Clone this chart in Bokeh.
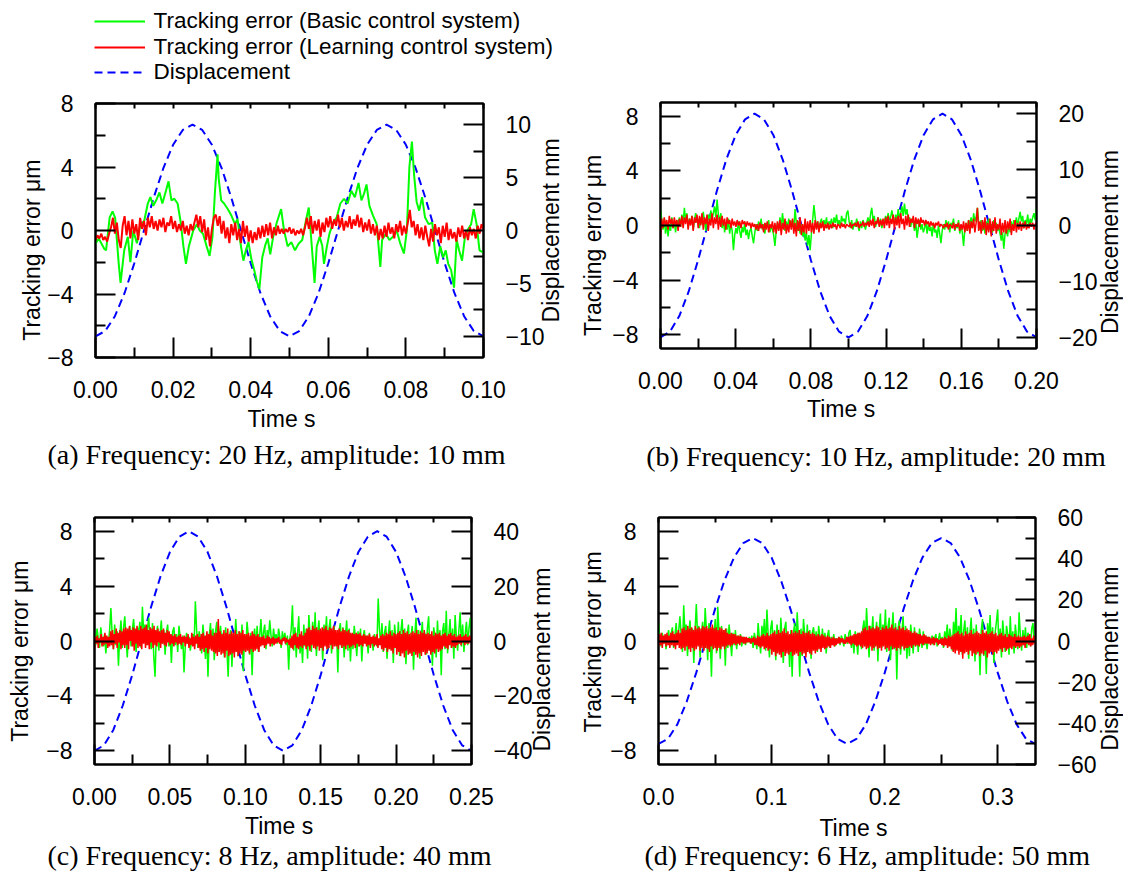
import math
import numpy as np
from bokeh.plotting import figure
from bokeh.models import (Range1d, LinearAxis, FixedTicker, PrintfTickFormatter,
                          CustomJSTickFormatter, Legend, LegendItem, Label)
from bokeh.embed import file_html
from bokeh.resources import INLINE

# ---------------- data ----------------
LEGEND_LABELS = ["Tracking error (Basic control system)",
                 "Tracking error (Learning control system)",
                 "Displacement"]
CAPTIONS = ["(a) Frequency: 20 Hz, amplitude: 10 mm",
            "(b) Frequency: 10 Hz, amplitude: 20 mm",
            "(c) Frequency: 8 Hz, amplitude: 40 mm",
            "(d) Frequency: 6 Hz, amplitude: 50 mm"]
X_TITLE = "Time s"
Y_TITLE = "Tracking error  \u03bcm"
Y2_TITLE = "Displacement  mm"

# panel (a) 20 Hz, 10 mm  (time in ms for the basic-system trace)
basic_a_ms = [0, 0.84, 2.25, 2.72, 3.65, 4.4, 5.06, 5.99, 6.46, 7.4,
              8.33, 8.99, 9.74, 10.67, 11.61, 12.55, 13.48, 14.14, 14.89, 15.64,
              16.48, 17.23, 18.16, 18.82, 19.57, 20.32, 21.16, 21.91, 22.66, 23.31,
              24.06, 25.19, 26.12, 26.87, 27.71, 28.65, 29.4, 30.15, 30.8, 31.46,
              31.74, 32.4, 33.15, 34.08, 35.02, 35.95, 36.61, 37.36, 38.11, 38.76,
              39.42, 40.17, 40.92, 41.57, 42.23, 42.98, 43.73, 44.38, 45.04, 45.79,
              46.72, 47.84, 48.59, 49.53, 50.47, 51.4, 52.34, 53.28, 54.21, 54.96,
              55.62, 56.46, 57.02, 57.77, 58.43, 58.89, 59.64, 60.3, 61.23, 62.17,
              63.11, 64.04, 64.98, 65.92, 66.85, 67.79, 68.54, 69.19, 69.85, 70.6,
              71.53, 72.47, 73.41, 73.87, 74.81, 75.75, 76.68, 77.62, 78.56, 79.49,
              80.24, 80.9, 81.55, 82.11, 82.77, 83.42, 84.17, 84.92, 85.86, 86.8,
              87.45, 88.11, 88.86, 89.6, 90.26, 90.91, 91.66, 92.41, 93.07, 93.72,
              94.47, 95.22, 96.06, 96.81, 97.47, 98.22, 98.97, 100]
basic_a = [-0.83, -0.5, -1.15, -1.25, 0.83, 1.2, 0.8, -2.1, -3.3, -1.25,
           -0.4, -2.0, 0.0, -0.8, 0.4, 0.6, 1.7, 2.1, 1.55, 1.9,
           2.4, 1.7, 2.5, 3.1, 1.9, 2.0, 1.7, 0.6, -1.0, -2.1,
           -1.0, 0.0, 0.4, 0.0, -0.2, -1.0, -1.6, -0.4, 2.5, 4.8,
           3.3, 1.9, 1.7, 1.35, 0.94, 0.4, 0.73, -0.8, -1.9, -1.25,
           -0.73, -1.8, -2.5, -3.2, -3.7, -1.7, -0.94, -0.5, -1.5, -0.4,
           0.5, 1.35, 0.0, -1.0, -0.73, -1.25, -0.83, -0.6, 0.6, 1.45,
           -0.6, -3.3, -1.0, -0.4, -0.94, -2.1, -1.0, -0.2, 0.5, 0.83,
           1.7, 2.0, 1.7, 2.5, 2.1, 3.0, 1.9, 2.3, 2.9, 1.55,
           0.94, 0.4, -2.3, -0.6, -0.2, -0.6, -0.4, 0.0, -0.83, -1.45,
           0.0, 4.0, 5.6, 3.5, 1.8, 1.25, 2.1, 0.83, 0.4, 0.5,
           -1.25, -2.1, -1.0, -1.7, -1.25, -2.1, -2.5, -3.6, -0.6, -1.25,
           -1.9, -0.4, 0.1, 0.4, 1.35, 0.4, -1.25, -1.4]
learn_a = [-0.6, -0.3, -0.5, -0.2, -0.6, -0.4, -0.7, -0.2,
           0.2, 0.8, -0.2, 0.5, -0.6, -1.1, 0.3, 0.9, -0.3, 0.6, -0.5, 0.7, -0.2, 0.4, -0.6, 0.8, 0.1, 0.6, -0.3,
           0.8, 0.2, 0.9, 0.1, 0.6, 0.0, 0.7, 0.2, 0.8, -0.1, 0.5, 0.3, 0.9, 0.1, 0.6, -0.1, 0.4, 0.0, 0.6, -0.2, 0.3, -0.3, 0.4, 0.0,
           0.5, 1.0, 0.2, 0.9, -0.1, 0.7, -0.6, 0.2, -1.0, 0.1, 0.8, 1.0,
           0.3, 0.9, -0.2, 0.6, -0.5, 0.2, -0.8, 0.4, -0.3, 0.5, -0.6, 0.1, -0.8, 0.6, -0.4, 0.3, -0.7, 0.0,
           -0.8, -0.1, -0.6, 0.2, -0.5, 0.3, -0.4, 0.4, -0.3, 0.5, -0.5, 0.2, -0.3, 0.3, -0.2, 0.1,
           -0.2, 0.1, -0.1, 0.2, -0.2, 0.1, -0.3, 0.0, -0.2, 0.1, -0.3, 0.2,
           0.8, 0.1, 0.9, -0.2, 0.6, 0.0, 0.7, -0.4, 0.5, -0.1, 0.8, 0.2, 0.9, 0.1, 0.7, 0.3, 1.0, 0.2, 0.8, 0.0,
           0.6, 0.2, 0.9, 0.1, 0.7, 0.3, 1.0, 0.2, 0.8, -0.1, 0.5, 0.0, 0.7, -0.2, 0.4, -0.3, 0.3, -0.6, 0.1, -0.5,
           0.3, -0.4, 0.5, -0.2, 0.2, -0.5, 0.4, -0.1, 0.6, -0.3, 0.3, -0.2, 0.5, 1.3,
           0.2, 0.6, -0.3, 0.4, -0.5, 0.2, -0.6, 0.3, -0.4, -1.0, 0.1, -0.7, 0.4, -0.3, 0.2, -0.8, 0.3, -0.4, 0.5,
           -0.6, 0.1, -0.5, -0.1, -0.7, 0.2, -0.4, 0.3, -0.5, 0.0, -0.6, 0.2, -0.3, 0.1, -0.5, 0.3, -0.2, 0.4, 0.1]
disp_a = [-10.0, -9.5, -8.1, -5.9, -3.1, 0.0, 3.1, 5.9, 8.1, 9.5, 10.0, 9.5, 8.1, 5.9, 3.1, 0.0,
          -3.1, -5.9, -8.1, -9.5, -10.0, -9.5, -8.1, -5.9, -3.1, 0.0, 3.1, 5.9, 8.1, 9.5, 10.0,
          9.5, 8.1, 5.9, 3.1, 0.0, -3.1, -5.9, -8.1, -9.5, -10.0]

# panel (b) 10 Hz, 20 mm
basic_b = [1.2, 0.4, -0.3, 0.5, -0.6, 0.2, -0.8, 0.1, -0.4, 0.6, -0.2, 0.3, -0.5, 0.4, 0.0,
           0.6, -0.1, 0.8, 0.2, 1.3, 0.4, 0.9, -0.2, 0.5, 0.1, 0.7, -0.3, 0.4, 0.9, 0.2,
           0.5, -0.2, 0.6, 0.1, 1.0, 0.3, -0.4, 0.5, 0.8, 0.2, 1.1, 0.4, 0.9, 1.4, 0.6,
           1.9, 0.8, 0.3, 0.9, -0.2, 0.4, -0.5, 0.2, -0.3, 0.5, -0.6, 0.1, -0.4, -1.8, -0.7,
           -0.2, -0.6, 0.3, -0.4, -0.9, -0.1, -0.5, 0.2, -0.7, -0.3, -1.0, -0.4, -0.2, -0.8, -1.3,
           -0.5, 0.1, -0.4, 0.3, -0.2, 0.5, -0.3, 0.1, -0.6, 0.2, -0.1, 0.4, -0.5, 0.0, -0.3,
           -0.7, -1.5, -0.4, 0.2, -0.3, 0.6, -0.2, 0.9, 0.1, -0.4, 0.3, -0.2, 0.5, -0.1, 0.2,
           0.4, -0.3, 1.2, 0.2, -0.4, 0.3, -0.6, 0.1, -0.8, -0.3, -1.1, -0.5, -1.5, -0.7, -1.8,
           -0.6, 0.4, 1.5, 0.6, -0.2, 0.3, -0.4, 0.2, 0.5, -0.1, 0.4, 0.0, 0.6, -0.2, 0.3,
           0.1, 0.5, -0.2, 0.6, 0.2, 0.8, 0.0, 0.4, -0.1, 0.7, 0.3, 0.5, 0.1, 0.9, 1.1,
           0.3, -0.2, 0.4, -0.3, 0.2, -0.1, 0.5, 0.0, -0.4, 0.3, -0.2, 0.4, 0.1, -0.3, 0.2,
           0.6, 0.1, 0.8, 1.3, 0.4, 0.7, -0.1, 0.3, 0.6, 0.0, 0.5, -0.2, 0.4, 0.2, 0.7,
           0.3, 0.9, 0.4, 0.6, 1.1, 0.5, 0.2, 0.8, 0.4, 1.2, 0.6, 0.9, 1.4, 0.7, 1.6,
           0.8, 1.2, 0.4, 0.6, -0.1, 0.5, 0.2, -0.4, 0.3, -0.9, -0.2, 0.4, -0.3, 0.1, -0.5,
           -0.2, 0.3, -0.6, 0.1, -0.4, -0.1, -0.8, 0.2, -0.5, -0.3, -0.9, 0.0, -0.6, -1.3, -0.4,
           0.1, -0.3, 0.4, -0.2, 0.3, -0.5, 0.2, 0.0, 0.5, -0.4, 0.1, -0.2, 0.4, -0.6, 0.0,
           -0.5, -1.5, -0.3, 0.2, -0.4, 0.4, 0.0, 0.6, -0.2, 0.9, 0.3, 0.6, 1.3, 0.2, -0.3,
           0.4, -0.4, 0.2, -0.6, 0.3, -0.1, 0.5, -0.3, 0.1, -0.5, 0.4, -0.2, 0.2, -0.4, -0.1,
           -0.6, -1.1, -0.5, -1.7, -0.6, -0.2, -0.8, 0.1, -0.5, 0.3, -0.3, 0.4, -0.1, 0.6, 0.0,
           0.5, 1.0, 0.3, 0.7, -0.2, 0.4, 0.1, 0.8, -0.1, 0.5, 0.2, 0.6, 0.9, 0.4, 1.3]
learn_b = [-0.9, 0.5, -0.2, 0.6, 0.0, 0.4, -0.3, 0.7, 0.1, 0.5, -0.2, 0.6, 0.0, 0.4, -0.4,
           0.5, -0.1, 0.7, -0.2, 0.6, 0.1, 0.8, -0.3, 0.5, 0.0, 0.7, -0.4, 0.6, 0.2, 0.8,
           -0.2, 0.7, 0.0, 0.9, -0.3, 0.6, 0.1, 0.8, -0.4, 0.5, 0.0, 0.9, -0.2, 0.6, 0.1,
           0.8, -0.3, 0.6, -0.1, 0.7, 0.0, 0.5, -0.3, 0.6, 0.1, 0.4, -0.2, 0.5, 0.0, 0.3,
           -0.1, 0.4, 0.0, 0.3, -0.2, 0.4, 0.1, 0.3, -0.1, 0.3, 0.0, 0.2, -0.2, 0.2, -0.1,
           0.1, -0.3, 0.1, -0.4, 0.2, -0.2, 0.1, -0.5, 0.2, -0.3, 0.3, -0.5, 0.1, -0.2, 0.3,
           -0.5, 0.2, -0.6, 0.3, -0.4, 0.4, -0.7, 0.2, -0.3, 0.5, -0.6, 0.1, -0.5, 0.4, -0.3,
           0.5, -0.6, 0.2, -0.8, 0.4, -0.4, 0.6, -0.7, 0.1, -0.5, 0.5, -0.6, 0.3, -0.4, 0.4,
           -0.5, 0.2, -0.6, 0.4, -0.3, 0.3, -0.5, 0.2, -0.2, 0.3, -0.4, 0.1, -0.2, 0.2, -0.3,
           0.1, -0.2, 0.2, -0.1, 0.1, -0.3, 0.1, 0.0, -0.2, 0.2, -0.1, 0.1, -0.2, 0.1, 0.0,
           -0.1, 0.2, -0.2, 0.1, 0.0, 0.2, -0.1, 0.3, -0.2, 0.1, 0.0, 0.3, -0.1, 0.2, 0.0,
           0.3, -0.1, 0.4, 0.0, 0.5, -0.2, 0.3, 0.1, 0.6, -0.1, 0.4, 0.0, 0.5, -0.2, 0.6,
           0.0, 0.7, -0.2, 0.5, 0.1, 0.8, -0.3, 0.6, 0.0, 0.7, -0.2, 0.9, 0.1, 0.5, -0.3,
           0.7, 0.0, 0.8, -0.1, 0.5, 0.2, 0.7, -0.2, 0.6, 0.1, 0.5, -0.1, 0.6, 0.2, 0.4,
           0.0, 0.4, 0.1, 0.3, -0.1, 0.3, 0.0, 0.2, -0.2, 0.2, 0.0, 0.3, -0.1, 0.1, 0.0,
           -0.2, 0.1, -0.1, 0.2, -0.3, 0.1, 0.0, -0.2, 0.2, -0.3, 0.1, -0.1, 0.2, -0.4, 0.1,
           -0.3, 0.3, -0.5, 0.2, -0.4, 0.4, -0.6, 0.3, -0.2, 0.5, -0.5, 0.2, 1.3, -0.4, 0.3,
           -0.6, 0.4, -0.3, 0.6, -0.7, 0.2, -0.5, 0.5, -0.8, 0.3, -0.4, 0.6, -0.6, 0.1, -0.3,
           0.5, -0.7, 0.2, -0.5, 0.4, -0.6, 0.3, -0.3, 0.5, -0.7, 0.1, -0.4, 0.4, -0.5, 0.2,
           -0.3, 0.3, -0.4, 0.2, -0.2, 0.3, -0.3, 0.1, -0.2, 0.2, -0.1, 0.2, -0.3, 0.1, 0.2]
disp_b = [-20.0, -19.0, -16.2, -11.8, -6.2, 0.0, 6.2, 11.8, 16.2, 19.0, 20.0, 19.0, 16.2, 11.8, 6.2, 0.0,
          -6.2, -11.8, -16.2, -19.0, -20.0, -19.0, -16.2, -11.8, -6.2, 0.0, 6.2, 11.8, 16.2, 19.0, 20.0,
          19.0, 16.2, 11.8, 6.2, 0.0, -6.2, -11.8, -16.2, -19.0, -20.0]

# panel (c) 8 Hz, 40 mm
basic_c = [0.6, -0.3, 0.9, 0.2, -0.5, 1.0, 0.1, -0.4, 0.5, -0.9, 0.3, -0.2,
           0.8, 2.4, 0.5, -0.6, 1.2, -0.3, 0.7, -1.8, 0.4, 1.5, -0.5, 0.9,
           1.8, 0.2, -1.2, 0.6, 1.1, -0.4, 0.8, 1.6, 0.3, -0.8, 1.0, 0.5,
           1.4, -0.5, 2.5, 0.6, 1.2, -0.3, 0.9, 1.7, 0.2, -0.6, 1.3, -1.1,
           -2.6, 0.4, 1.1, -0.7, 0.5, 1.5, -0.2, 0.8, -1.0, 0.6, 1.2, -0.4,
           0.3, -1.6, 0.7, 1.0, -0.3, 0.5, -0.8, 1.1, 0.2, -0.6, 0.4, -2.3,
           -0.4, 0.6, -0.2, 0.3, -0.7, 0.1, 0.5, -0.3, 2.9, 0.8, -0.5, 0.7,
           0.2, -0.9, 1.2, 0.1, -1.3, 0.6, -2.6, 0.4, 1.3, -0.5, 0.9, -1.4,
           0.7, 1.4, -0.8, 0.5, 1.1, -0.3, 0.6, -1.2, 1.0, -0.6, -2.6, 0.3,
           0.8, -1.9, 0.5, -0.7, 1.6, 0.2, -1.1, 0.7, -0.4, 1.2, -2.2, 0.4,
           -0.6, 1.4, 0.3, -1.0, 0.6, -2.5, 0.2, 0.9, -0.5, 1.1, -0.8, 0.4,
           1.6, -0.3, 0.6, 1.2, -0.6, 0.8, 0.2, 1.5, 0.4, -0.4, 0.9, 0.1,
           0.5, -0.2, 0.9, 0.3, -0.5, 0.7, 0.0, 0.6, -0.3, 0.4, -2.1, 0.2,
           0.8, 2.6, -0.7, 1.0, -1.2, 0.5, 1.8, -0.9, 0.3, -1.6, 1.2, -0.4,
           0.9, -1.3, 1.9, 0.4, -0.8, 1.4, -0.2, 2.1, -1.1, 0.6, 1.5, -0.5,
           0.7, -1.4, 1.2, 0.3, 1.8, -0.6, 0.9, 1.6, -0.9, 0.5, 1.1, -0.3,
           0.6, -2.3, 0.8, 1.3, -0.5, 1.0, -1.2, 0.4, 1.5, -0.7, 0.9, -1.5,
           0.5, -0.6, 1.1, 0.2, -1.1, 0.7, -0.4, 0.9, -1.5, 0.3, 0.8, -0.2,
           0.4, -0.9, 0.6, -0.3, 0.2, -0.7, 0.5, 0.1, -0.4, 3.1, 0.9, -0.3,
           1.3, -0.8, 0.6, 1.1, -1.3, 0.4, 1.5, -0.6, 0.8, -1.6, 1.2, 0.2,
           -0.5, 1.4, -1.1, 0.7, 1.6, -0.4, 0.9, -1.7, 0.5, 1.2, -0.9, 0.3,
           1.1, -2.1, 0.4, 1.7, -0.6, 0.8, -1.3, 0.2, 1.4, -0.8, 0.6, -1.0,
           0.9, 1.8, -0.7, 0.5, -1.8, 1.0, 0.3, -1.2, 1.5, -0.4, 0.8, -2.5,
           0.7, 1.3, -0.6, 2.2, -0.9, 0.4, 1.6, -0.5, 0.9, -1.3, 1.9, 0.3,
           -0.7, 0.8, 2.1, -0.4, 1.2, -0.8, 0.5, 1.4, -0.3, 0.9, 1.7, 0.4]
learn_c = [-0.6, 0.3, -0.2, 0.4, -0.5, 0.2, -0.1, 0.5, -0.4, 0.3, -0.3, 0.6, -0.2, 0.4, -0.5, 0.3,
           -0.4, 0.7, -0.3, 0.8, -0.6, 0.5, -0.2, 0.9, -0.5, 0.6, -0.1, 0.8, -0.6, 0.7, -0.3, 0.9,
           -0.5, 1.0, -0.3, 0.9, -0.6, 1.1, 0.0, 0.8, -0.4, 1.0, -0.7, 0.9, -0.2, 1.1, -0.5, 0.8,
           -0.4, 1.1, -0.6, 0.9, -0.2, 1.0, -0.5, 1.2, -0.3, 0.8, -0.6, 1.0, -0.1, 0.9, -0.5, 1.1,
           -0.3, 0.8, -0.4, 0.9, -0.1, 0.7, -0.5, 0.8, -0.2, 0.9, -0.3, 0.6, -0.4, 0.8, -0.1, 0.7,
           -0.3, 0.5, -0.2, 0.4, -0.4, 0.5, -0.1, 0.3, -0.3, 0.4, -0.2, 0.5, -0.3, 0.3, -0.1, 0.4,
           -0.4, 0.3, -0.2, 0.5, -0.5, 0.2, -0.3, 0.6, -0.4, 0.3, -0.6, 0.4, -0.2, 0.5, -0.5, 0.3,
           -0.7, 0.5, -0.6, 0.6, -0.8, 0.4, -0.5, 0.7, -0.9, 0.5, -0.6, 0.8, -0.7, 0.4, -0.8, 0.6,
           -0.9, 0.6, -1.1, 1.6, -0.8, 0.7, -1.0, 0.5, -0.9, 0.8, -1.2, 0.6, -0.7, 0.9, -1.1, 0.5,
           -1.0, 0.7, -0.9, 0.6, -1.2, 0.8, -0.8, 0.5, -1.1, 0.7, -0.9, 0.6, -1.0, 0.8, -0.7, 0.5,
           -0.8, 0.5, -0.7, 0.6, -0.9, 0.4, -0.6, 0.7, -0.8, 0.5, -0.7, 0.4, -0.6, 0.5, -0.8, 0.3,
           -0.4, 0.3, -0.3, 0.4, -0.5, 0.2, -0.3, 0.4, -0.2, 0.3, -0.4, 0.2, -0.2, 0.3, -0.3, 0.2,
           -0.2, 0.2, -0.1, 0.3, -0.2, 0.1, -0.3, 0.2, 0.0, 0.3, -0.2, 0.2, -0.1, 0.1, -0.3, 0.2,
           -0.5, 0.4, -0.6, 0.5, -0.3, 0.6, -0.5, 0.3, -0.6, 0.5, -0.4, 0.7, -0.5, 0.4, -0.3, 0.6,
           -0.6, 0.9, -0.4, 1.0, -0.7, 0.8, -0.3, 1.1, -0.5, 0.9, -0.6, 1.0, -0.4, 0.8, -0.7, 0.9,
           -0.5, 1.0, -0.7, 0.9, -0.4, 1.1, -0.6, 0.8, -0.5, 1.0, -0.3, 0.9, -0.6, 1.1, -0.4, 0.8,
           -0.4, 0.8, -0.6, 0.9, -0.3, 0.7, -0.5, 0.9, -0.4, 0.8, -0.6, 0.7, -0.3, 0.8, -0.5, 0.6,
           -0.4, 0.6, -0.3, 0.5, -0.5, 0.6, -0.2, 0.5, -0.4, 0.6, -0.3, 0.4, -0.4, 0.5, -0.2, 0.4,
           -0.4, 0.4, -0.3, 0.5, -0.5, 0.3, -0.2, 0.4, -0.4, 0.3, -0.3, 0.5, -0.5, 0.2, -0.3, 0.4,
           -0.6, 0.5, -0.7, 0.4, -0.5, 0.6, -0.8, 0.5, -0.6, 0.7, -0.7, 0.4, -0.9, 0.6, -0.5, 0.5,
           -1.0, 0.6, -0.8, 0.7, -1.1, 0.5, -0.9, 0.8, -1.2, 0.6, -0.7, 0.7, -1.0, 0.5, -0.9, 0.6,
           -1.1, 0.7, -0.8, 0.6, -1.0, 0.8, -1.2, 0.5, -0.9, 0.7, -1.1, 0.6, -0.8, 0.8, -1.0, 0.5,
           -0.9, 0.6, -0.7, 0.5, -1.0, 0.7, -0.8, 0.4, -0.9, 0.6, -0.6, 0.5, -0.8, 0.6, -0.7, 0.4,
           -0.6, 0.5, -0.4, 0.6, -0.5, 0.4, -0.6, 0.5, -0.3, 0.6, -0.5, 0.4, -0.4, 0.5, -0.5, 0.3,
           -0.3, 0.4, -0.2, 0.5, -0.3, 0.3, -0.1, 0.4, -0.3, 0.5, -0.2, 0.3, -0.2, 0.4, -0.1, 0.3]
disp_c = [-40.0, -38.0, -32.4, -23.5, -12.4, 0.0, 12.4, 23.5, 32.4, 38.0, 40.0, 38.0, 32.4, 23.5, 12.4, 0.0,
          -12.4, -23.5, -32.4, -38.0, -40.0, -38.0, -32.4, -23.5, -12.4, 0.0, 12.4, 23.5, 32.4, 38.0, 40.0,
          38.0, 32.4, 23.5, 12.4, 0.0, -12.4, -23.5, -32.4, -38.0, -40.0]

# panel (d) 6 Hz, 50 mm
basic_d = [1.4, 0.3, -0.4, 0.6, -0.2, 0.4, -0.6, 0.2, 0.8, -0.3, 0.5, 1.0, -0.5, 0.3, 1.3, -0.2, 0.7, 1.8,
           0.4, -0.8, 2.6, 0.5, 1.2, -1.1, 0.6, 1.5, -0.4, 0.9, -1.6, 0.7, 2.7, 0.3, 1.1, -1.2, 0.5, 1.4,
           -0.6, 2.4, 0.8, -1.4, 1.3, 0.2, -2.6, 1.0, 0.4, 1.6, -0.9, 2.5, 0.6, -1.3, 1.1, -0.4, 0.8, -1.8,
           0.9, -0.5, 1.2, 0.2, -1.1, 0.6, -0.3, 0.8, -0.6, 0.4, -0.2, 0.5, -0.4, 0.3, 0.1, -0.3, 0.2, -0.1,
           0.3, -0.2, 0.4, -0.5, 0.6, 0.1, -0.6, 1.3, 0.2, -0.9, 1.1, 0.3, 1.6, -0.7, 2.3, 0.4, -1.2, 0.9,
           1.5, -0.5, 0.8, -1.4, 1.2, 0.3, -0.8, 1.7, 0.2, -1.6, 0.9, 1.4, -0.6, 0.4, -1.9, 0.8, -2.6, 0.6,
           1.3, -0.7, 2.1, 0.2, -2.6, 0.9, -1.1, 1.6, 0.4, -0.9, 1.2, -0.5, 0.8, -1.3, 0.6, 1.0, -0.4, 0.7,
           -0.8, 1.1, 0.3, -0.6, 0.9, -0.3, 0.6, -0.9, 0.4, 0.8, -0.5, 0.3, -0.2, 0.5, -0.4, 0.2, -0.1, 0.3,
           -0.3, 0.4, 0.1, -0.4, 0.5, 0.0, -0.2, 0.6, 0.8, -0.5, 0.4, -0.9, 0.7, 0.2, -1.0, 0.6, 0.3, -0.6,
           0.9, 1.5, -0.4, 2.4, 0.5, -1.2, 1.1, 0.3, 1.8, -0.7, 0.6, 1.4, -1.5, 0.8, 2.0, -0.5, 1.2, 0.4,
           2.3, -0.8, 1.0, 1.7, -1.4, 0.6, 2.1, -0.6, 1.3, -2.8, 0.9, 1.5, -1.0, 0.5, 1.8, -0.7, 1.1, -1.3,
           0.7, -1.1, 1.2, 0.3, -0.9, 1.0, -0.4, 0.6, -0.8, 0.9, 0.2, -0.5, 0.7, -0.3, 0.4, -0.6, 0.3, 0.1,
           -0.2, 0.4, -0.3, 0.2, 0.5, -0.4, 0.1, 0.6, -0.2, 0.3, -0.5, 0.7, 0.1, 1.2, -0.4, 0.9, 0.3, -0.7,
           1.4, 0.2, 2.4, -0.6, 1.1, 0.4, 1.9, -1.0, 0.7, 1.5, -0.5, 1.0, -1.3, 0.6, 1.7, -0.8, 0.9, -1.5,
           1.2, -0.9, 0.5, -2.5, 0.8, 1.6, -1.1, 0.4, -2.4, 1.3, 0.2, 1.9, -0.7, 1.0, -1.6, 0.6, 1.4, 2.3,
           -0.5, 0.9, -1.2, 1.5, 0.3, -0.8, 1.1, 0.5, -1.0, 1.8, -0.4, 0.7, -0.9, 1.2, 0.2, -0.6, 2.1, 0.4,
           -0.7, 0.8, -0.3, 1.0, -0.5, 0.6, 0.2, -0.4, 0.9, 1.3, -0.2, 0.5]
learn_d = [-0.4, 0.5, -0.3, 0.6, -0.5, 0.4, -0.2, 0.5, -0.4, 0.6, -0.3, 0.4, -0.5, 0.6, -0.3, 0.7, -0.4, 0.5, -0.6, 0.6, -0.3, 0.8, -0.5, 0.6,
           -0.6, 0.9, -0.5, 1.0, -0.7, 0.8, -0.4, 1.1, -0.6, 0.9, -0.8, 1.0, -0.5, 0.8, -0.7, 1.1, -0.6, 0.9, -0.4, 1.0, -0.7, 0.9, -0.5, 1.1,
           -0.7, 1.0, -0.5, 1.1, -0.6, 0.9, -0.8, 1.0, -0.4, 1.2, -0.6, 0.9, -0.5, 1.0, -0.7, 0.8, -0.5, 1.0, -0.6, 0.9, -0.4, 0.8, -0.6, 0.9,
           -0.4, 0.6, -0.3, 0.5, -0.4, 0.6, -0.3, 0.5, -0.2, 0.5, -0.3, 0.4, -0.2, 0.4, -0.3, 0.4, -0.1, 0.3, -0.2, 0.3, -0.2, 0.3, -0.1, 0.2,
           -0.1, 0.2, -0.2, 0.2, -0.1, 0.3, -0.3, 0.2, -0.3, 0.4, -0.4, 0.3, -0.5, 0.4, -0.4, 0.5, -0.6, 0.4, -0.5, 0.6, -0.7, 0.4, -0.6, 0.5,
           -1.0, 0.6, -0.8, 0.7, -1.1, 0.5, -0.9, 0.8, -1.0, 0.6, -1.2, 0.7, -0.8, 0.9, -1.1, 0.6, -0.9, 0.7, -1.0, 0.5, -0.8, 0.8, -1.1, 0.6,
           -1.0, 0.7, -0.9, 0.6, -1.1, 0.8, -0.8, 0.5, -1.0, 0.7, -0.9, 0.6, -1.2, 0.6, -0.8, 0.7, -0.9, 0.5, -1.0, 0.6, -0.7, 0.5, -0.9, 0.4,
           -0.7, 0.5, -0.6, 0.4, -0.8, 0.5, -0.5, 0.4, -0.6, 0.3, -0.5, 0.4, -0.4, 0.3, -0.5, 0.2, -0.3, 0.3, -0.4, 0.2, -0.3, 0.2, -0.2, 0.3,
           -0.2, 0.2, -0.1, 0.2, -0.2, 0.1, -0.2, 0.3, -0.1, 0.3, -0.2, 0.4, -0.3, 0.4, -0.2, 0.5, -0.3, 0.5, -0.4, 0.6, -0.3, 0.6, -0.4, 0.7,
           -0.5, 0.9, -0.4, 1.0, -0.6, 0.8, -0.5, 1.1, -0.4, 0.9, -0.7, 1.0, -0.5, 0.9, -0.4, 1.1, -0.6, 1.0, -0.5, 0.8, -0.7, 1.0, -0.4, 0.9,
           -0.6, 1.1, -0.5, 0.9, -0.7, 1.0, -0.4, 1.2, -0.6, 0.9, -0.5, 1.0, -0.7, 0.8, -0.5, 1.1, -0.6, 0.9, -0.4, 1.0, -0.6, 0.8, -0.5, 0.9,
           -0.5, 0.8, -0.4, 0.7, -0.5, 0.6, -0.3, 0.7, -0.4, 0.6, -0.3, 0.5, -0.4, 0.5, -0.2, 0.4, -0.3, 0.5, -0.2, 0.4, -0.2, 0.3, -0.2, 0.3,
           -0.3, 0.2, -0.2, 0.3, -0.3, 0.2, -0.1, 0.2, -0.3, 0.1, -0.2, 0.2, -0.3, 0.2, -0.4, 0.3, -0.3, 0.2, -0.5, 0.4, -0.4, 0.3, -0.6, 0.4,
           -0.8, 0.5, -0.9, 0.6, -0.7, 0.7, -1.0, 0.5, -0.8, 0.6, -1.3, 0.4, -0.9, 0.7, -0.8, 0.5, -1.0, 0.6, -0.7, 0.8, -1.1, 0.5, -0.9, 0.6,
           -1.0, 0.7, -0.8, 0.6, -1.1, 0.5, -0.9, 0.8, -1.0, 0.6, -0.7, 0.7, -1.2, 0.5, -0.9, 0.6, -0.8, 0.7, -1.0, 0.5, -0.8, 0.6, -0.9, 0.4,
           -0.7, 0.5, -0.6, 0.6, -0.8, 0.4, -0.5, 0.5, -0.7, 0.3, -0.6, 0.5, -0.5, 0.4, -0.6, 0.3, -0.4, 0.5, -0.5, 0.3, -0.4, 0.4, -0.5, 0.3,
           -0.4, 0.3, -0.3, 0.4, -0.5, 0.3, -0.2, 0.4, -0.3, 0.5, -0.4, 0.2, -0.3, 0.4, -0.2, 0.3]
disp_d = [-50.0, -47.6, -40.5, -29.4, -15.5, 0.0, 15.5, 29.4, 40.5, 47.6, 50.0, 47.6, 40.5, 29.4, 15.5, 0.0,
          -15.5, -29.4, -40.5, -47.6, -50.0, -47.6, -40.5, -29.4, -15.5, 0.0, 15.5, 29.4, 40.5, 47.6, 50.0,
          47.6, 40.5, 29.4, 15.5, 0.0, -15.5, -29.4, -40.5, -47.6, -50.0]

# time spans of the panels (s)
T_END = [0.1, 0.2, 0.25, 1.0 / 3.0]

# axis ticks
Y_MAJOR = [-8, -4, 0, 4, 8]
Y_MINOR = [-6, -2, 2, 6]
X_MAJOR = [[0.0, 0.02, 0.04, 0.06, 0.08, 0.1],
           [0.0, 0.04, 0.08, 0.12, 0.16, 0.2],
           [0.0, 0.05, 0.1, 0.15, 0.2, 0.25],
           [0.0, 0.1, 0.2, 0.3]]
X_MINOR = [[0.01, 0.03, 0.05, 0.07, 0.09],
           [0.02, 0.06, 0.1, 0.14, 0.18],
           [0.025, 0.075, 0.125, 0.175, 0.225],
           [0.05, 0.15, 0.25]]
X_FMT = ["%.2f", "%.2f", "%.2f", "%.1f"]
D_MAJOR = [[-10, -5, 0, 5, 10],
           [-20, -10, 0, 10, 20],
           [-40, -20, 0, 20, 40],
           [-60, -40, -20, 0, 20, 40, 60]]
D_MINOR = [[-7.5, -2.5, 2.5, 7.5],
           [-15, -5, 5, 15],
           [-30, -10, 10, 30],
           [-50, -30, -10, 10, 30, 50]]

# ---------------- styling / layout ----------------
SANS = "Liberation Sans"
SERIF = "Liberation Serif"
FS = "23px"
LEGEND_FS = "22.5px"
GREEN, RED, BLUE = "#00FF00", "#FF0000", "#0000FF"
PAGE_W, PAGE_H = 1123, 871


def style_axis(ax, std):
    ax.major_tick_in = 20
    ax.major_tick_out = 0
    ax.minor_tick_in = 10
    ax.minor_tick_out = 0
    ax.major_tick_line_width = 2
    ax.minor_tick_line_width = 2
    ax.major_tick_line_color = "black"
    ax.minor_tick_line_color = "black"
    ax.axis_line_color = "black"
    ax.axis_line_width = 2
    ax.major_label_text_font = SANS
    ax.major_label_text_font_size = FS
    ax.major_label_text_color = "black"
    ax.major_label_standoff = std


def make_panel(i, pos, size, borders, y_end, d_end):
    w, h = size
    left, right, top, bottom = borders
    p = figure(width=w, height=h, output_backend="svg", toolbar_location=None,
               x_range=Range1d(0, T_END[i]), y_range=Range1d(-y_end, y_end),
               min_border_left=left, min_border_right=right,
               min_border_top=top, min_border_bottom=bottom)
    p.styles = {"position": "absolute", "left": f"{pos[0]}px", "top": f"{pos[1]}px"}
    p.extra_y_ranges = {"disp": Range1d(-d_end, d_end)}
    p.xgrid.visible = False
    p.ygrid.visible = False
    p.outline_line_color = "black"
    p.outline_line_width = 2
    p.background_fill_color = "white"
    p.border_fill_color = "white"

    xa = p.xaxis[0]
    xa.ticker = FixedTicker(ticks=X_MAJOR[i], minor_ticks=X_MINOR[i])
    xa.formatter = PrintfTickFormatter(format=X_FMT[i])
    style_axis(xa, 23)

    ya = p.yaxis[0]
    ya.ticker = FixedTicker(ticks=Y_MAJOR, minor_ticks=Y_MINOR)
    style_axis(ya, 22)

    ra = LinearAxis(y_range_name="disp",
                    ticker=FixedTicker(ticks=D_MAJOR[i], minor_ticks=D_MINOR[i]))
    style_axis(ra, 22)
    p.add_layout(ra, "right")

    ta = LinearAxis(ticker=FixedTicker(ticks=sorted(X_MAJOR[i] + X_MINOR[i])),
                    formatter=CustomJSTickFormatter(code="return ''"))
    ta.major_tick_in = 5
    ta.major_tick_out = 0
    ta.minor_tick_in = 0
    ta.minor_tick_out = 0
    ta.major_tick_line_width = 2
    ta.axis_line_color = "black"
    ta.axis_line_width = 2
    ta.major_label_standoff = 0
    ta.major_label_text_font_size = "10px"
    p.add_layout(ta, "above")
    return p


def draw(p, t_basic, basic, t_learn, learn, t_disp, disp, lw):
    p.line(t_disp, disp, y_range_name="disp", line_color=BLUE, line_width=2, line_dash="8 5")
    p.line(t_basic, basic, line_color=GREEN, line_width=lw)
    p.line(t_learn, learn, line_color=RED, line_width=lw)


t_basic_a = [v / 1000.0 for v in basic_a_ms]
t_learn_a = np.linspace(0, T_END[0], len(learn_a))
t_disp_a = np.linspace(0, T_END[0], len(disp_a))

# panel (a)
pa = make_panel(0, (0, 0), (570, 480), (95, 87, 103, 123), 8, 12)
draw(pa, t_basic_a, basic_a, t_learn_a, learn_a, t_disp_a, disp_a, 2)

# panel (b)
pb = make_panel(1, (570, 0), (553, 480), (90, 87, 102, 132), 9, 22)
draw(pb, np.linspace(0, T_END[1], len(basic_b)), basic_b,
     np.linspace(0, T_END[1], len(learn_b)), learn_b,
     np.linspace(0, T_END[1], len(disp_b)), disp_b, 1.5)

# panel (c)
pc = make_panel(2, (0, 480), (570, 391), (94, 99, 37, 107), 9, 45)
draw(pc, np.linspace(0, T_END[2], len(basic_c)), basic_c,
     np.linspace(0, T_END[2], len(learn_c)), learn_c,
     np.linspace(0, T_END[2], len(disp_c)), disp_c, 1.5)

# panel (d)
pd_ = make_panel(3, (570, 480), (553, 391), (88, 88, 37, 107), 9, 60)
draw(pd_, np.linspace(0, T_END[3], len(basic_d)), basic_d,
     np.linspace(0, T_END[3], len(learn_d)), learn_d,
     np.linspace(0, T_END[3], len(disp_d)), disp_d, 1.5)

# ---------------- overlay: legend, axis titles, captions ----------------
ov = figure(width=PAGE_W, height=PAGE_H, output_backend="svg", toolbar_location=None,
            x_range=Range1d(0, 1), y_range=Range1d(0, 1),
            x_axis_location=None, y_axis_location=None, min_border=0)
ov.styles = {"position": "absolute", "left": "0px", "top": "0px"}
ov.grid.visible = False
ov.outline_line_color = None
ov.background_fill_color = None
ov.border_fill_color = None
# legend series: the panel (a) data on a range that lies outside the page
ov.extra_x_ranges = {"off": Range1d(10, 11)}
lg_g = ov.line(t_basic_a, basic_a, x_range_name="off", line_color=GREEN, line_width=2)
lg_r = ov.line(t_learn_a, learn_a, x_range_name="off", line_color=RED, line_width=2)
lg_b = ov.line(t_disp_a, disp_a, x_range_name="off", line_color=BLUE, line_width=2, line_dash="8 5")
row_y = [21.1, 46.5, 71.9]          # page y of the legend rows
for rend, lab, yc in zip([lg_g, lg_r, lg_b], LEGEND_LABELS, row_y):
    lg = Legend(items=[LegendItem(label=lab, renderers=[rend])],
                location=(93.6, PAGE_H - yc - 20), orientation="vertical",
                glyph_width=51, glyph_height=40, label_height=40, label_standoff=9,
                padding=0, margin=0, border_line_color=None, background_fill_alpha=0,
                label_text_font=SANS, label_text_font_size=LEGEND_FS, label_text_color="black")
    ov.add_layout(lg)


def page_label(text, x, y, font=SANS, size=FS, angle=0.0, align="center"):
    # (x, y): page position of the centre line of the text box
    ov.add_layout(Label(x=x, y=PAGE_H - y, x_units="screen", y_units="screen", text=text,
                        angle=angle, text_font=font, text_font_size=size, text_color="black",
                        text_align=align, text_baseline="middle"))


# left titles (x = text-box centre line, y = centre)
for bx, cy in [(31, 246.5), (592.2, 241.7), (19.8, 647.5), (592.2, 638.3)]:
    page_label(Y_TITLE, bx, cy, angle=math.pi / 2)
# right titles
for bx, cy in [(550, 226.7), (1109.5, 238.3), (541.8, 655.8), (1109, 655)]:
    page_label(Y2_TITLE, bx, cy, angle=math.pi / 2)
# x titles
for cx, cy in [(281, 418.7), (840.6, 408.7), (278.6, 825.3), (853, 827)]:
    page_label(X_TITLE, cx, cy)
# captions (x = left edge)
for txt, lx, cy in zip(CAPTIONS, [47, 645.8, 47, 644], [453.9, 456.3, 855.3, 855.3]):
    page_label(txt, lx, cy, font=SERIF, size="28px", align="left")

open("out.html", "w").write(file_html([pa, pb, pc, pd_, ov], INLINE))
